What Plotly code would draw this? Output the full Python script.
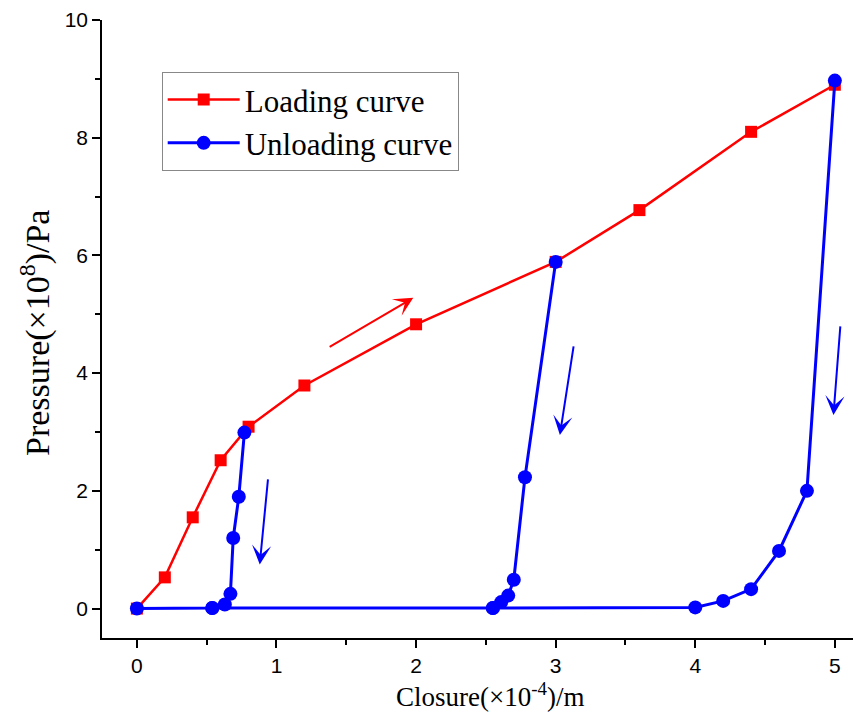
import plotly.graph_objects as go

# Loading curve
load_x = [0, 0.2, 0.4, 0.6, 0.8, 1.2, 2.0, 3.0, 3.6, 4.4, 5.0]
load_y = [0, 0.53, 1.55, 2.52, 3.09, 3.79, 4.83, 5.89, 6.77, 8.1, 8.9]

# Unloading curves (three branches, joined along the zero line)
unload1_x = [0.77, 0.73, 0.69, 0.67, 0.63, 0.54, 0]
unload1_y = [2.99, 1.9, 1.2, 0.25, 0.07, 0.01, 0]
unload2_x = [3.0, 2.78, 2.70, 2.66, 2.61, 2.55, 0.54]
unload2_y = [5.89, 2.23, 0.49, 0.22, 0.11, 0.01, 0.01]
unload3_x = [5.0, 4.8, 4.6, 4.4, 4.2, 4.0, 2.55]
unload3_y = [8.97, 2.0, 0.98, 0.33, 0.13, 0.02, 0.01]

# Direction arrows: (tail_x, tail_y, head_x, head_y, colour)
arrows = [
    (1.37, 4.43, 1.98, 5.28, "red"),
    (0.94, 2.22, 0.88, 0.75, "blue"),
    (3.13, 4.48, 3.03, 2.95, "blue"),
    (5.04, 4.82, 4.99, 3.29, "blue"),
]

x_title = "Closure(×10<sup>-4</sup>)/m"
y_title = "Pressure(×10<sup>8</sup>)/Pa"

fig = go.Figure()
fig.add_trace(go.Scatter(
    x=load_x, y=load_y, mode="lines+markers", name="Loading curve",
    line=dict(color="#ff0000", width=2.5),
    marker=dict(symbol="square", size=12, color="#ff0000"),
))
ux = unload1_x + [None] + unload2_x + [None] + unload3_x
uy = unload1_y + [None] + unload2_y + [None] + unload3_y
fig.add_trace(go.Scatter(
    x=ux, y=uy, mode="lines+markers", name="Unloading curve",
    line=dict(color="#0000ff", width=3),
    marker=dict(symbol="circle", size=14, color="#0000ff"),
    connectgaps=False,
))

for tx, ty, hx, hy, c in arrows:
    fig.add_annotation(
        x=hx, y=hy, ax=tx, ay=ty, xref="x", yref="y", axref="x", ayref="y",
        showarrow=True, arrowhead=3, arrowsize=1.6, arrowwidth=2, arrowcolor=c,
        text="",
    )

# axis titles placed as annotations for exact positioning
fig.add_annotation(
    text=x_title, xref="paper", yref="paper", x=0.5166, y=0, yshift=-57,
    xanchor="center", yanchor="middle", showarrow=False,
    font=dict(family="Liberation Serif", size=27, color="black"),
)
fig.add_annotation(
    text=y_title, xref="paper", yref="paper", x=-0.0893, y=0.4935, textangle=-90,
    xanchor="center", yanchor="middle", showarrow=False,
    font=dict(family="Liberation Serif", size=34, color="black"),
)

# the page body adds an 8 px offset; figure sized so that no scrollbars appear
fig.update_layout(
    width=845, height=706,
    margin=dict(l=94, r=0, t=12, b=76),
    plot_bgcolor="white", paper_bgcolor="white",
    showlegend=True,
    legend=dict(
        x=0.0795, y=0.916, xanchor="left", yanchor="top",
        bordercolor="#888888", borderwidth=1, bgcolor="white",
        font=dict(family="Liberation Serif", size=31, color="black"),
        itemwidth=72, tracegroupgap=0,
    ),
)
fig.update_xaxes(
    range=[-0.25, 5.13], showgrid=False, zeroline=False, automargin=False,
    showline=True, linecolor="black", linewidth=1.5,
    ticks="outside", ticklen=8, tickwidth=1.5, tickcolor="black",
    tickvals=[0, 1, 2, 3, 4, 5], ticklabeloverflow="allow",
    minor=dict(tickvals=[0.5, 1.5, 2.5, 3.5, 4.5], ticks="outside", ticklen=5, tickwidth=1.5, tickcolor="black"),
    tickfont=dict(family="Liberation Sans", size=21, color="black"),
)
fig.update_yaxes(
    range=[-0.5, 10], showgrid=False, zeroline=False, automargin=False,
    showline=True, linecolor="black", linewidth=1.5,
    ticks="outside", ticklen=8, tickwidth=1.5, tickcolor="black",
    tickvals=[0, 2, 4, 6, 8, 10], ticklabeloverflow="allow",
    minor=dict(tickvals=[1, 3, 5, 7, 9], ticks="outside", ticklen=5, tickwidth=1.5, tickcolor="black"),
    tickfont=dict(family="Liberation Sans", size=21, color="black"),
)

fig.write_html("out.html")
